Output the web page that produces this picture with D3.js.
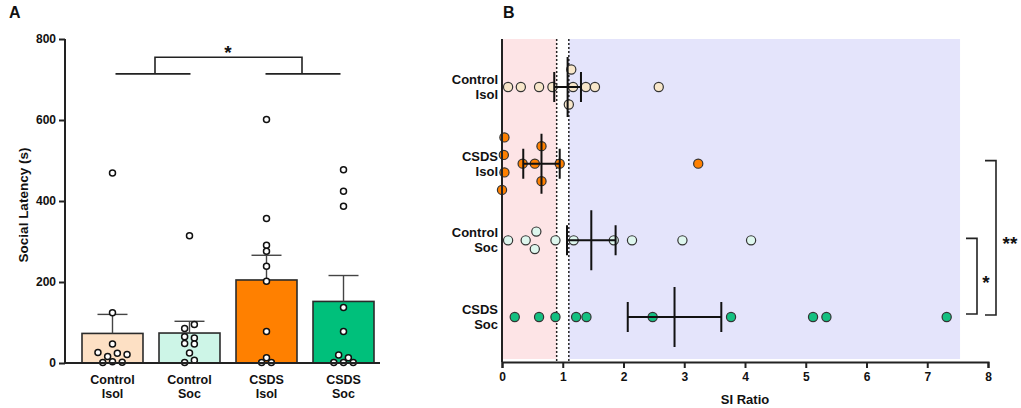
<!DOCTYPE html>
<html>
<head>
<meta charset="utf-8">
<script src="https://cdn.jsdelivr.net/npm/d3@7"></script>
<style>
body { margin: 0; background: #fff; }
text { font-family: Arial, "Liberation Sans", sans-serif; font-weight: bold; fill: #111; }
</style>
</head>
<body>
<div id="chart"></div>
<script>
// ---- data ----
var groups = ["Control Isol", "Control Soc", "CSDS Isol", "CSDS Soc"];
var latencyMean = [73, 74, 205, 152];
var latencySem = [47, 29, 61, 64];
var latencyCtrlIsol = [469, 124, 47, 16, 24, 26, 21, 3, 1, 2];
var latencyCtrlSoc = [314, 85, 95, 65, 62, 48, 47, 25, 1, 7];
var latencyCsdsIsol = [601, 357, 291, 276, 239, 202, 78, 13, 1, 1];
var latencyCsdsSoc = [477, 424, 387, 137, 78, 20, 13, 1, 1, 1];
var latencyTicks = [0, 200, 400, 600, 800];

var siRows = ["Control Isol", "CSDS Isol", "Control Soc", "CSDS Soc"];
var siCtrlIsol = [0.10, 0.31, 0.61, 0.83, 1.17, 1.14, 1.10, 1.38, 1.53, 2.58];
var siCsdsIsol = [0.03, 0.04, 0.04, 0.00, 0.34, 0.54, 0.65, 0.65, 0.95, 3.23];
var siCtrlSoc = [0.10, 0.39, 0.565, 0.54, 0.88, 1.18, 1.84, 2.14, 2.97, 4.10];
var siCsdsSoc = [0.21, 0.61, 0.88, 1.22, 1.39, 2.48, 3.77, 5.12, 5.34, 7.32];
var siMean = [1.08, 0.65, 1.47, 2.84];
var siSem = [0.22, 0.30, 0.40, 0.77];
var siTicks = [0, 1, 2, 3, 4, 5, 6, 7, 8];

var barColors = ["#fde0c4", "#cdf5e7", "#ff8000", "#00c07b"];
var dotColorsB = ["#f8e7ca", "#ff8000", "#def7ee", "#14c081"];

var svg = d3.select("#chart").append("svg")
  .attr("width", 1021).attr("height", 408);

// spread near-equal values sideways (simple column swarm)
function swarm(vals, px, thresh, step) {
  var idx = vals.map(function(v, i) { return i; })
    .sort(function(a, b) { return px(vals[a]) - px(vals[b]) || a - b; });
  var clusters = [], cur = [idx[0]];
  for (var k = 1; k < idx.length; k++) {
    if (Math.abs(px(vals[idx[k]]) - px(vals[idx[k - 1]])) < thresh) cur.push(idx[k]);
    else { clusters.push(cur); cur = [idx[k]]; }
  }
  clusters.push(cur);
  var off = new Array(vals.length);
  clusters.forEach(function(c) {
    c.sort(function(a, b) { return a - b; });
    var n = c.length;
    c.forEach(function(i, k) {
      var o;
      if (n % 2) o = k === 0 ? 0 : Math.ceil(k / 2) * (k % 2 ? -1 : 1);
      else o = (Math.floor(k / 2) + 0.5) * (k % 2 ? 1 : -1);
      off[i] = o * step;
    });
  });
  return vals.map(function(v, i) { return { v: v, off: off[i] }; });
}

// ================= panel A =================
var gA = svg.append("g");
var xA = d3.scaleBand().domain(groups).range([82, 374]).paddingInner(0.208).paddingOuter(0);
var yA = d3.scaleLinear().domain([0, 800]).range([363, 39]);

gA.append("text").attr("x", 9).attr("y", 18).style("font-size", "16px").text("A");

gA.selectAll("rect.bar").data(groups).enter().append("rect")
  .attr("class", "bar")
  .attr("x", function(d) { return xA(d); })
  .attr("width", xA.bandwidth())
  .attr("y", function(d, i) { return yA(latencyMean[i]); })
  .attr("height", function(d, i) { return yA(0) - yA(latencyMean[i]); })
  .attr("fill", function(d, i) { return barColors[i]; })
  .attr("stroke", "#2b2b2b").attr("stroke-width", 1.6);

// error bars (upper only)
groups.forEach(function(g, i) {
  var cx = xA(g) + xA.bandwidth() / 2;
  var top = yA(latencyMean[i] + latencySem[i]);
  gA.append("line").attr("x1", cx).attr("x2", cx)
    .attr("y1", yA(latencyMean[i])).attr("y2", top)
    .attr("stroke", "#444").attr("stroke-width", 1.4);
  gA.append("line").attr("x1", cx - 15).attr("x2", cx + 15)
    .attr("y1", top).attr("y2", top)
    .attr("stroke", "#444").attr("stroke-width", 1.4);
});

var latencySets = [latencyCtrlIsol, latencyCtrlSoc, latencyCsdsIsol, latencyCsdsSoc];
latencySets.forEach(function(set, i) {
  var cx = xA(groups[i]) + xA.bandwidth() / 2;
  var pts = swarm(set, yA, 4.6, 9.7);
  gA.selectAll(null).data(pts).enter().append("circle")
    .attr("cx", function(d) { return cx + d.off; })
    .attr("cy", function(d) { return yA(d.v); })
    .attr("r", 3)
    .attr("fill", "#fff").attr("stroke", "#111").attr("stroke-width", 1.5);
});

// axes
var axA = gA.append("g").attr("transform", "translate(65,0)")
  .call(d3.axisLeft(yA).tickValues(latencyTicks).tickSize(6).tickPadding(3));
axA.select(".domain").attr("d", "M0," + (yA(800)) + "V" + yA(0));
gA.append("line").attr("x1", 65).attr("x2", 380).attr("y1", yA(0)).attr("y2", yA(0))
  .attr("stroke", "#222").attr("stroke-width", 2);

axA.selectAll("path, line").attr("stroke", "#222").attr("stroke-width", 2);
axA.selectAll("text").style("font-size", "12px").style("font-family", "Arial, 'Liberation Sans', sans-serif")
  .style("font-weight", "bold").attr("fill", "#111");

groups.forEach(function(g) {
  var cx = xA(g) + xA.bandwidth() / 2;
  var parts = g.split(" ");
  var t = gA.append("text").attr("text-anchor", "middle").style("font-size", "12.5px");
  t.append("tspan").attr("x", cx).attr("y", 384).text(parts[0]);
  t.append("tspan").attr("x", cx).attr("y", 398).text(parts[1]);
});

gA.append("text").attr("transform", "translate(28,205) rotate(-90)")
  .attr("text-anchor", "middle").style("font-size", "13.5px").text("Social Latency (s)");

// significance bracket A
var c0 = xA(groups[0]) + xA.bandwidth() / 2, c1 = xA(groups[1]) + xA.bandwidth() / 2;
var c2 = xA(groups[2]) + xA.bandwidth() / 2, c3 = xA(groups[3]) + xA.bandwidth() / 2;
var lowY = yA(714), highY = yA(755);
gA.append("path")
  .attr("d", "M" + (c0 + 3) + "," + lowY + "H" + (c1 + 1) +
    "M" + ((c0 + c1) / 2 + 4) + "," + lowY + "V" + highY + "H" + ((c2 + c3) / 2 - 3) + "V" + lowY +
    "M" + (c2 - 1) + "," + lowY + "H" + (c3 - 3))
  .attr("fill", "none").attr("stroke", "#222").attr("stroke-width", 1.6);
gA.append("text").attr("x", (c1 + c2) / 2).attr("y", 59).attr("text-anchor", "middle")
  .style("font-size", "19px").text("*");

// ================= panel B =================
var gB = svg.append("g");
var xB = d3.scaleLinear().domain([0, 8]).range([502, 988]);
var yB = d3.scalePoint().domain(siRows).range([87, 317]);
var topB = 39, botB = 362;

gB.append("text").attr("x", 503).attr("y", 18).style("font-size", "16px").text("B");

gB.append("rect").attr("x", xB(0) + 1).attr("y", topB).attr("width", xB(0.9) - xB(0) - 1)
  .attr("height", botB - 3 - topB).attr("fill", "#fde4e6");
gB.append("rect").attr("x", xB(1.1)).attr("y", topB).attr("width", xB(7.54) - xB(1.1))
  .attr("height", botB - 3 - topB).attr("fill", "#e4e4fb");

[0.9, 1.1].forEach(function(v) {
  gB.append("line").attr("x1", xB(v)).attr("x2", xB(v)).attr("y1", topB).attr("y2", botB)
    .attr("stroke", "#222").attr("stroke-width", 1.5).attr("stroke-dasharray", "2,2");
});

var siSets = [siCtrlIsol, siCsdsIsol, siCtrlSoc, siCsdsSoc];
siSets.forEach(function(set, i) {
  var cy = yB(siRows[i]);
  var pts = swarm(set, xB, 8, 17.5);
  gB.selectAll(null).data(pts).enter().append("circle")
    .attr("cx", function(d) { return xB(d.v); })
    .attr("cy", function(d) { return cy + d.off; })
    .attr("r", 4.6)
    .attr("fill", dotColorsB[i]).attr("stroke", "#333").attr("stroke-width", 1.2);
});

// mean +/- SEM crosses
siRows.forEach(function(r, i) {
  var cy = yB(r), lo = xB(siMean[i] - siSem[i]), hi = xB(siMean[i] + siSem[i]), m = xB(siMean[i]);
  gB.append("path")
    .attr("d", "M" + lo + "," + cy + "H" + hi +
      "M" + lo + "," + (cy - 15) + "V" + (cy + 15) +
      "M" + hi + "," + (cy - 15) + "V" + (cy + 15) +
      "M" + m + "," + (cy - 30) + "V" + (cy + 30))
    .attr("fill", "none").attr("stroke", "#111").attr("stroke-width", 2);
});

var axB = gB.append("g").attr("transform", "translate(0," + botB + ")")
  .call(d3.axisBottom(xB).tickValues(siTicks).tickSize(6).tickPadding(4));
axB.selectAll("path, line").attr("stroke", "#222").attr("stroke-width", 2);
axB.selectAll("text").style("font-size", "12px").style("font-family", "Arial, 'Liberation Sans', sans-serif")
  .style("font-weight", "bold").attr("fill", "#111");
gB.append("line").attr("x1", xB(0)).attr("x2", xB(0)).attr("y1", topB).attr("y2", botB)
  .attr("stroke", "#222").attr("stroke-width", 2);

siRows.forEach(function(r) {
  var parts = r.split(" ");
  var cy = yB(r);
  var t = gB.append("text").attr("text-anchor", "end").style("font-size", "13px");
  t.append("tspan").attr("x", 498).attr("y", cy - 3).text(parts[0]);
  t.append("tspan").attr("x", 498).attr("y", cy + 12).text(parts[1]);
});

gB.append("text").attr("x", xB(4)).attr("y", 404).attr("text-anchor", "middle")
  .style("font-size", "13px").text("SI Ratio");

// significance brackets B
var yCS = yB("Control Soc"), yDS = yB("CSDS Soc"), yDI = yB("CSDS Isol");
gB.append("path").attr("d", "M966," + (yCS - 2) + "H977V" + (yDS - 3) + "H966")
  .attr("fill", "none").attr("stroke", "#222").attr("stroke-width", 1.6);
gB.append("text").attr("x", 986).attr("y", 289).attr("text-anchor", "middle")
  .style("font-size", "19px").text("*");
gB.append("path").attr("d", "M985," + (yDI - 3) + "H996V" + (yDS - 2) + "H985")
  .attr("fill", "none").attr("stroke", "#222").attr("stroke-width", 1.6);
gB.append("text").attr("x", 1010).attr("y", 250).attr("text-anchor", "middle")
  .style("font-size", "19px").text("**");
</script>
</body>
</html>
